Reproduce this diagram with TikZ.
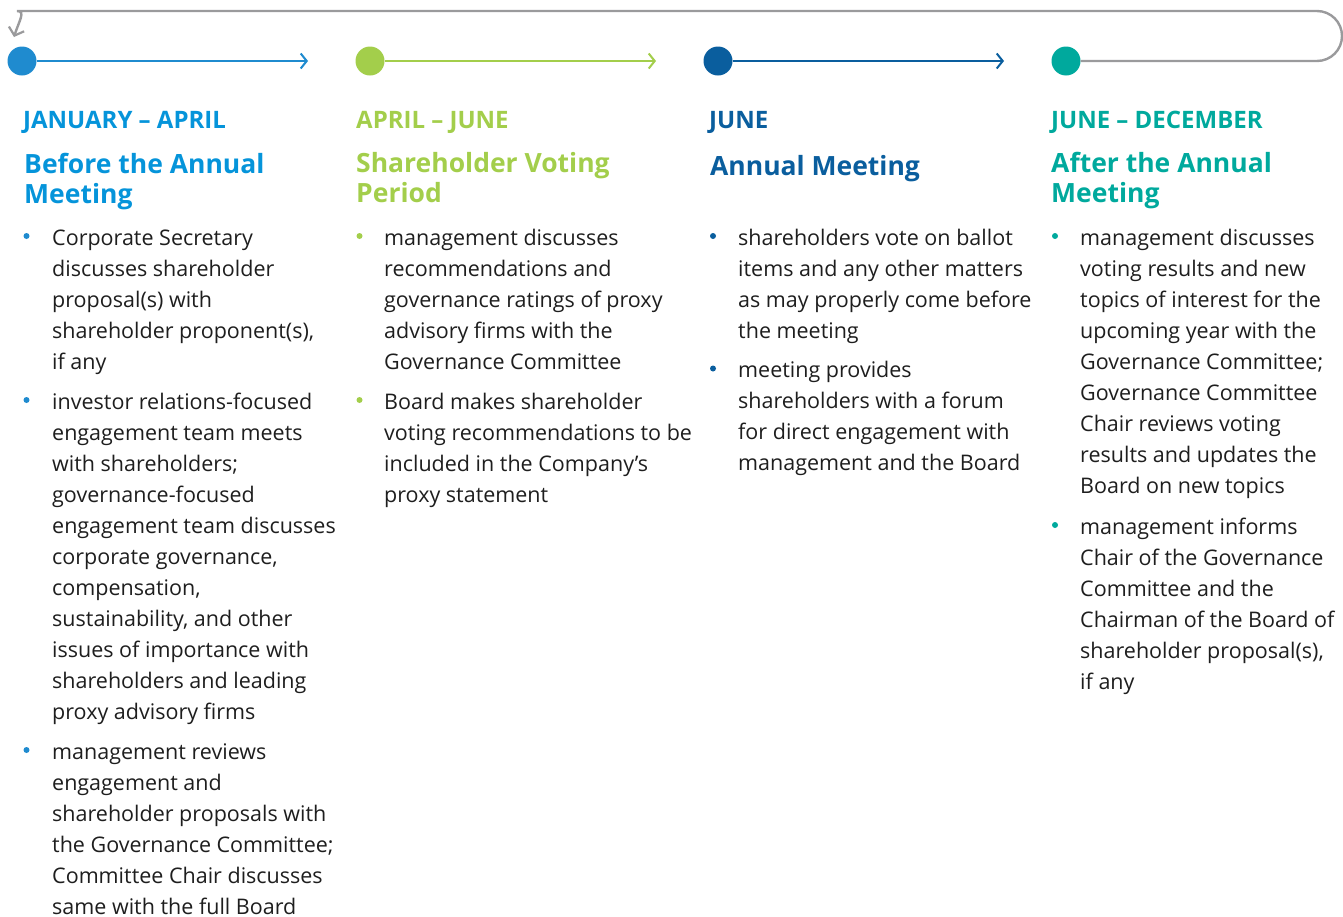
\documentclass[tikz,border=0pt]{standalone}
\usepackage{fontspec}
\setmainfont{Open Sans}
\usetikzlibrary{arrows.meta}
\definecolor{bluedot}{HTML}{1F8BCF}
\definecolor{bluetxt}{HTML}{0594DA}
\definecolor{green}{HTML}{A3CE4B}
\definecolor{navy}{HTML}{0A5E9E}
\definecolor{teal}{HTML}{00A99D}
\definecolor{loopgray}{HTML}{9A9A9C}
\definecolor{bodytxt}{HTML}{1E1E1E}
\tikzset{
  x=1pt, y=-1pt,
  stagedot/.style={circle, fill=#1, minimum size=29pt, inner sep=0pt},
  stageline/.style={draw=#1, line width=2pt, -{Straight Barb[length=6pt,width=15pt,line width=2pt]}},
  datelabel/.style={anchor=base west, inner sep=0pt, text=#1, font=\fontsize{24}{28}\selectfont\bfseries},
  titlelabel/.style={anchor=base west, inner sep=0pt, text=#1, align=left, font=\fontsize{26.5}{30}\selectfont\bfseries},
  itemtext/.style={anchor=base west, inner sep=0pt, text=bodytxt, align=left, font=\fontsize{21.5}{31}\selectfont},
  itemdot/.style={circle, fill=#1, minimum size=6pt, inner sep=0pt},
}
\begin{document}
\begin{tikzpicture}
\useasboundingbox (0,0) rectangle (1343,916);

% stage markers
\node[stagedot=bluedot] (c1) at (22,61) {};
\node[stagedot=green]   (c2) at (370,61) {};
\node[stagedot=navy]    (c3) at (718,61) {};
\node[stagedot=teal]    (c4) at (1066,61) {};
\coordinate (t1) at (308,61);
\coordinate (t2) at (656,61);
\coordinate (t3) at (1004,61);
\draw[stageline=bluedot] (c1) -- (t1);
\draw[stageline=green]   (c2) -- (t2);
\draw[stageline=navy]    (c3) -- (t3);

% return loop from the last stage back to the first
\coordinate (loopend) at (14,37);
\draw[loopgray, line width=2.4pt, rounded corners=25pt,
      -{Straight Barb[length=7pt,width=16pt,line width=2.2pt]}]
  (c4) -- (1342,61) -- (1342,11) -- (42,11)
  .. controls (26,11) and (19,21) .. (loopend);

% headings (multi-line nodes sit on the baseline of their last line)
\node[datelabel=bluetxt] (d1) at (23,128) {JANUARY – APRIL};
\node[datelabel=green]   (d2) at (356,128) {APRIL – JUNE};
\node[datelabel=navy]    (d3) at (709,128) {JUNE};
\node[datelabel=teal]    (d4) at (1051,128) {JUNE – DECEMBER};

\node[titlelabel=bluetxt] (h1) at (24,203) {Before the Annual\\Meeting};
\node[titlelabel=green]   (h2) at (356,202) {Shareholder Voting\\Period};
\node[titlelabel=navy]    (h3) at (710,175) {Annual Meeting};
\node[titlelabel=teal]    (h4) at (1051,202) {After the Annual\\Meeting};

% column 1
\node[itemdot=bluedot] (p11) at (26.5,236) {};
\node[itemtext] (i11) at (52,369) {Corporate Secretary\\discusses shareholder\\proposal(s) with\\shareholder proponent(s),\\if any};
\node[itemdot=bluedot] (p12) at (26.5,400) {};
\node[itemtext] (i12) at (52,719) {investor relations-focused\\engagement team meets\\with shareholders;\\governance-focused\\engagement team discusses\\corporate governance,\\compensation,\\sustainability, and other\\issues of importance with\\shareholders and leading\\proxy advisory firms};
\node[itemdot=bluedot] (p13) at (26.5,750) {};
\node[itemtext] (i13) at (52,914) {management reviews\\engagement and\\shareholder proposals with\\the Governance Committee;\\Committee Chair discusses\\same with the full Board};

% column 2
\node[itemdot=green] (p21) at (359.5,236) {};
\node[itemtext] (i21) at (384,369) {management discusses\\recommendations and\\governance ratings of proxy\\advisory firms with the\\Governance Committee};
\node[itemdot=green] (p22) at (359.5,400) {};
\node[itemtext] (i22) at (384,502) {Board makes shareholder\\voting recommendations to be\\included in the Company’s\\proxy statement};

% column 3
\node[itemdot=navy] (p31) at (713,236) {};
\node[itemtext] (i31) at (738,338) {shareholders vote on ballot\\items and any other matters\\as may properly come before\\the meeting};
\node[itemdot=navy] (p32) at (713,368.5) {};
\node[itemtext] (i32) at (738,470.5) {meeting provides\\shareholders with a forum\\for direct engagement with\\management and the Board};

% column 4
\node[itemdot=teal] (p41) at (1055,236) {};
\node[itemtext] (i41) at (1080,493) {management discusses\\voting results and new\\topics of interest for the\\upcoming year with the\\Governance Committee;\\Governance Committee\\Chair reviews voting\\results and updates the\\Board on new topics};
\node[itemdot=teal] (p42) at (1055,525) {};
\node[itemtext] (i42) at (1080,689) {management informs\\Chair of the Governance\\Committee and the\\Chairman of the Board of\\shareholder proposal(s),\\if any};
\end{tikzpicture}
\end{document}
